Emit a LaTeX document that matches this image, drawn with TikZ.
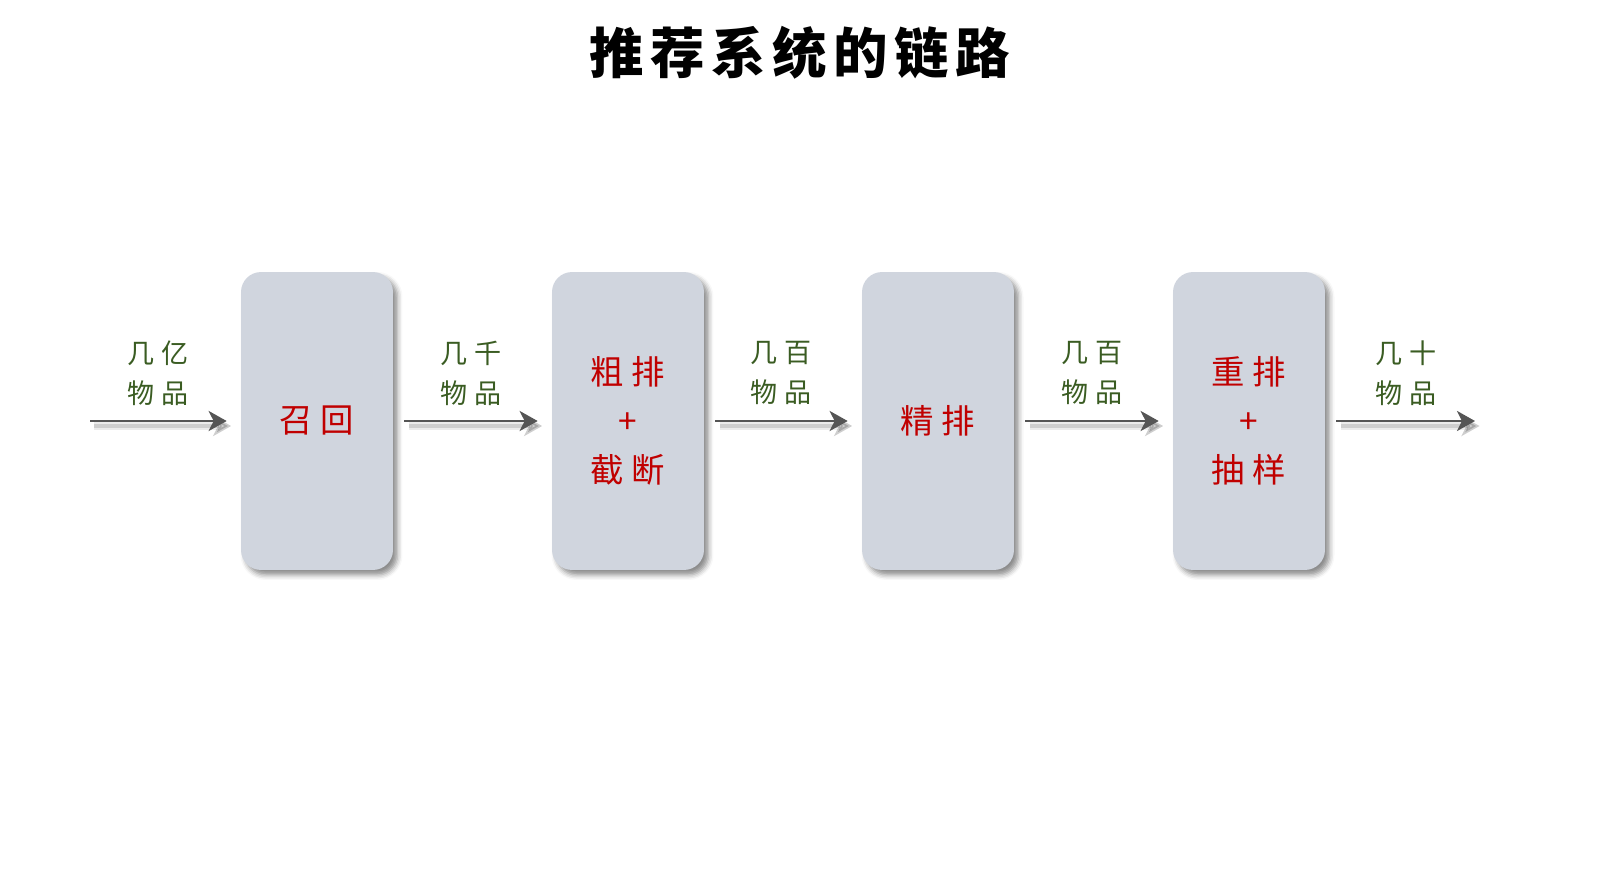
\documentclass[tikz,border=0pt]{standalone}
\usepackage{fontspec}
\usetikzlibrary{arrows.meta,shadows.blur}

\newfontfamily\titlefont[LetterSpace=12]{Noto Sans CJK SC}
\newfontfamily\stagefont[LetterSpace=24]{Noto Sans CJK SC}
\newfontfamily\countfont[LetterSpace=26]{Noto Sans CJK SC}

\definecolor{boxgray}{RGB}{208,213,222}
\definecolor{stagered}{RGB}{192,0,0}
\definecolor{countgreen}{RGB}{58,92,34}
\definecolor{arrowgray}{RGB}{85,85,85}

\begin{document}
\begin{tikzpicture}[x=0.02cm, y=-0.02cm,
	stage/.style={rounded corners=0.4cm, fill=boxgray, minimum width=3.04cm, minimum height=5.96cm,
		blur shadow={shadow xshift=0.09cm, shadow yshift=-0.1cm, shadow blur radius=0.1cm, shadow opacity=45},
		text=stagered, align=center, font=\stagefont\fontsize{19}{27.8}\selectfont},
	flow/.style={line width=0.06cm, draw=arrowgray, -{Stealth[length=0.36cm, width=0.4cm, inset=0.1cm]},
		preaction={draw=black, opacity=0.08, line width=0.16cm, transform canvas={shift={(0.09cm,-0.1cm)}}},
		preaction={draw=black, opacity=0.12, line width=0.08cm, transform canvas={shift={(0.09cm,-0.1cm)}}}},
	count/.style={text=countgreen, align=center, font=\countfont\fontsize{15.4}{22.7}\selectfont}]
	\useasboundingbox (0,0) rectangle (1597,895);
	\node[font=\titlefont\bfseries\fontsize{31}{36}\selectfont] (title) at (800,53) {推荐系统的链路};
	\foreach \n/\x/\t in {b1/317/{召回}, b2/628/{粗排\\+\\截断}, b3/938/{精排}, b4/1249/{重排\\+\\抽样}} {
		\node[stage] (\n) at (\x,421) {\t};
	}
	\coordinate (in) at (90,421);
	\coordinate (out) at (1475,421);
	\draw[flow] (in) -- node[count, yshift=0.96cm] (c1) {几亿\\物品} ([xshift=-0.28cm]b1.west);
	\draw[flow] ([xshift=0.22cm]b1.east) -- node[count, yshift=0.96cm] (c2) {几千\\物品} ([xshift=-0.28cm]b2.west);
	\draw[flow] ([xshift=0.22cm]b2.east) -- node[count, yshift=0.96cm] (c3) {几百\\物品} ([xshift=-0.28cm]b3.west);
	\draw[flow] ([xshift=0.22cm]b3.east) -- node[count, yshift=0.96cm] (c4) {几百\\物品} ([xshift=-0.28cm]b4.west);
	\draw[flow] ([xshift=0.22cm]b4.east) -- node[count, yshift=0.96cm] (c5) {几十\\物品} (out);
\end{tikzpicture}
\end{document}
